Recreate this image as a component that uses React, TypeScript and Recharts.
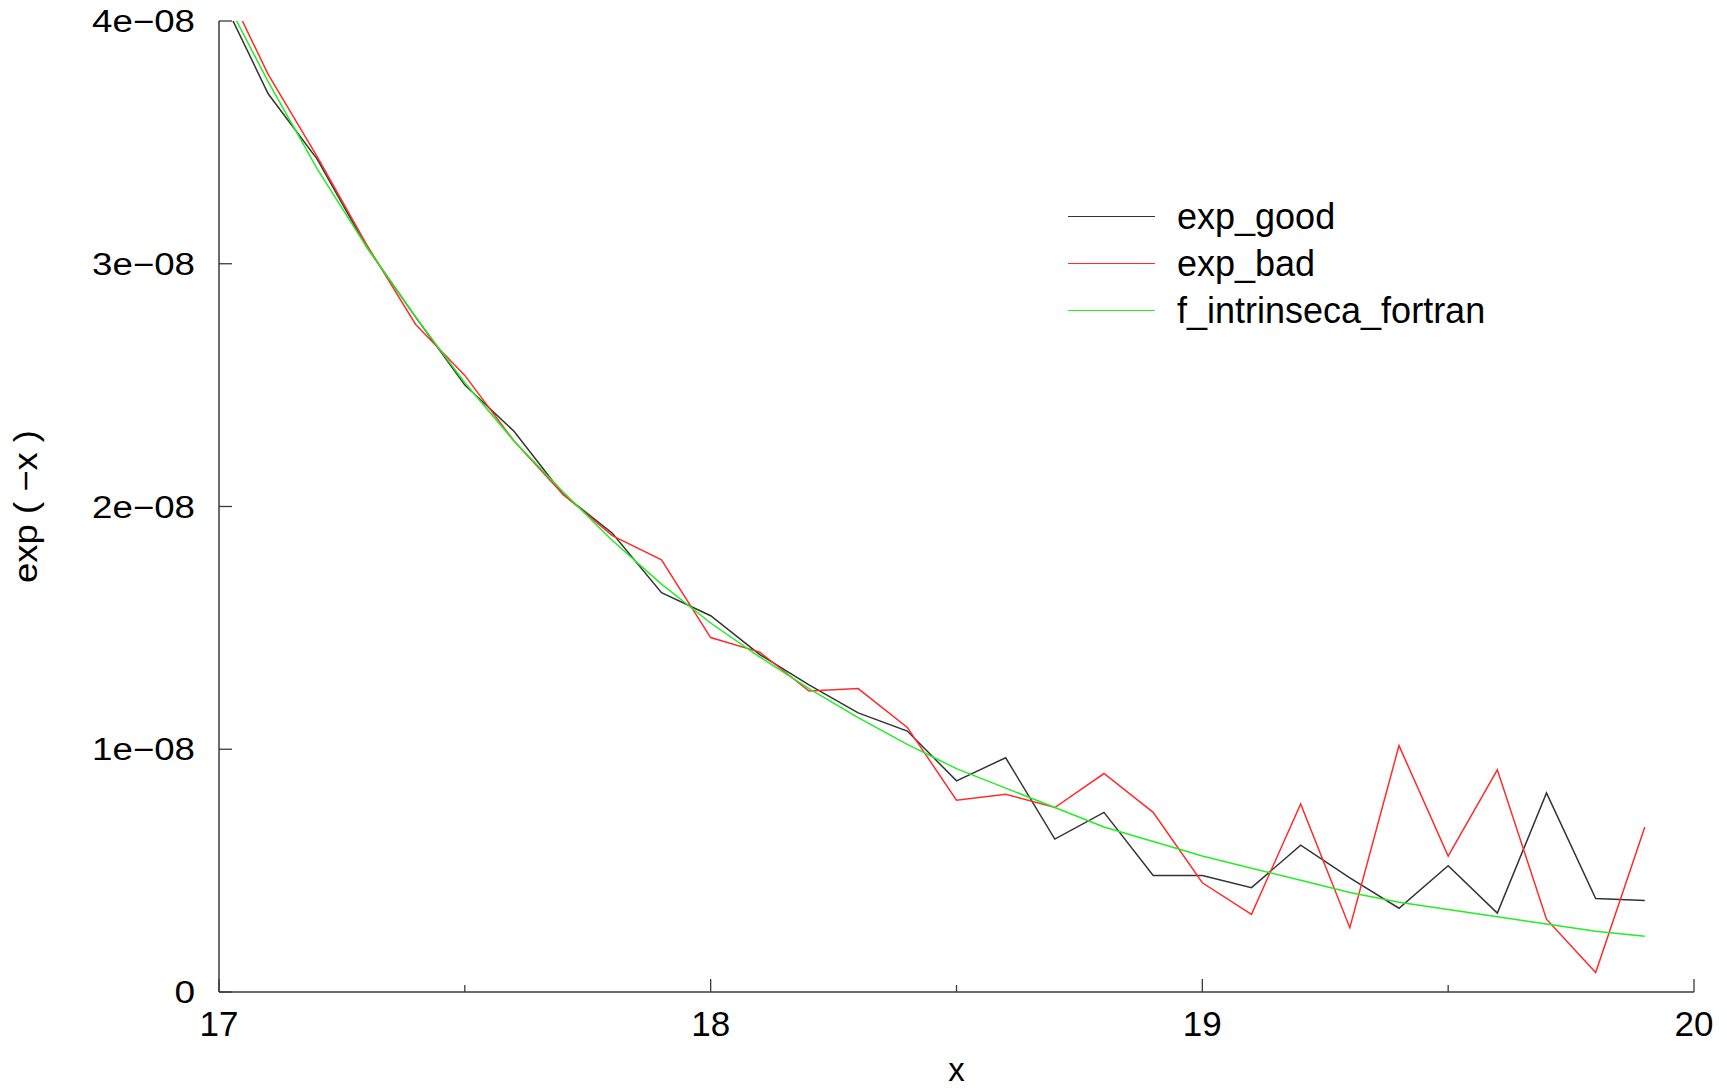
import { LineChart, Line, XAxis, YAxis, Legend } from 'recharts';

// sample points (x) and the three series
const xValues = [
  17.0, 17.1, 17.2, 17.3, 17.4, 17.5, 17.6, 17.7, 17.8, 17.9,
  18.0, 18.1, 18.2, 18.3, 18.4, 18.5, 18.6, 18.7, 18.8, 18.9,
  19.0, 19.1, 19.2, 19.3, 19.4, 19.5, 19.6, 19.7, 19.8, 19.9,
];

const expGood = [
  4.12e-8, 3.70e-8, 3.43e-8, 3.07e-8, 2.78e-8, 2.50e-8, 2.31e-8, 2.05e-8, 1.89e-8, 1.645e-8,
  1.55e-8, 1.39e-8, 1.265e-8, 1.15e-8, 1.075e-8, 0.87e-8, 0.965e-8, 0.63e-8, 0.74e-8, 0.48e-8,
  0.48e-8, 0.43e-8, 0.605e-8, 0.47e-8, 0.345e-8, 0.52e-8, 0.325e-8, 0.82e-8, 0.385e-8, 0.377e-8,
];

const expBad = [
  4.20e-8, 3.78e-8, 3.44e-8, 3.08e-8, 2.75e-8, 2.54e-8, 2.27e-8, 2.05e-8, 1.88e-8, 1.78e-8,
  1.46e-8, 1.40e-8, 1.24e-8, 1.25e-8, 1.09e-8, 0.79e-8, 0.815e-8, 0.76e-8, 0.90e-8, 0.74e-8,
  0.45e-8, 0.32e-8, 0.775e-8, 0.265e-8, 1.015e-8, 0.56e-8, 0.915e-8, 0.30e-8, 0.08e-8, 0.68e-8,
];

const fIntrinseca = [
  4.14e-8, 3.75e-8, 3.39e-8, 3.07e-8, 2.78e-8, 2.51e-8, 2.27e-8, 2.06e-8, 1.86e-8, 1.68e-8,
  1.52e-8, 1.38e-8, 1.25e-8, 1.13e-8, 1.02e-8, 0.92e-8, 0.84e-8, 0.76e-8, 0.68e-8, 0.62e-8,
  0.56e-8, 0.51e-8, 0.46e-8, 0.41e-8, 0.37e-8, 0.34e-8, 0.31e-8, 0.28e-8, 0.25e-8, 0.23e-8,
];

const seriesNames = ['exp_good', 'exp_bad', 'f_intrinseca_fortran'];

const xTicks = [17, 17.5, 18, 18.5, 19, 19.5, 20];
const xTickLabels = ['17', '', '18', '', '19', '', '20'];
const yTicks = [0, 1e-8, 2e-8, 3e-8, 4e-8];
const yTickLabels = ['0', '1e\u221208', '2e\u221208', '3e\u221208', '4e\u221208'];

const data = xValues.map((x, i) => ({
  x,
  good: expGood[i],
  bad: expBad[i],
  fortran: fIntrinseca[i],
}));

const FONT = '"Liberation Sans", Arial, Helvetica, sans-serif';
const FRAME = '#3a3a3a';

const XTickBottom = ({ x, y, index }: any) => {
  const label = xTickLabels[index];
  return (
    <g>
      <line x1={x} y1={y} x2={x} y2={y - (label ? 13 : 7)} stroke={FRAME} strokeWidth={1.3} />
      {label && (
        <text x={x} y={y + 44} textAnchor="middle" fontFamily={FONT} fontSize={35} fill="#000">
          {label}
        </text>
      )}
    </g>
  );
};

const XTickTop = ({ x, y, index }: any) => (
  <line x1={x} y1={y} x2={x} y2={y + (xTickLabels[index] ? 13 : 7)} stroke={FRAME} strokeWidth={1.3} />
);

const YTickLeft = ({ x, y, index }: any) => {
  const label = yTickLabels[index];
  return (
    <g>
      <line x1={x} y1={y} x2={x + 13} y2={y} stroke={FRAME} strokeWidth={1.3} />
      <text
        x={x - 24}
        y={y + 11}
        textAnchor="end"
        fontFamily={FONT}
        fontSize={31}
        fill="#000"
        textLength={label.length * 20.6}
        lengthAdjust="spacingAndGlyphs"
      >
        {label}
      </text>
    </g>
  );
};

const YTickRight = ({ x, y }: any) => (
  <line x1={x} y1={y} x2={x - 13} y2={y} stroke={FRAME} strokeWidth={1.3} />
);

const XTitle = ({ viewBox }: any) => (
  <text
    x={viewBox.x + viewBox.width / 2}
    y={viewBox.y + 89}
    textAnchor="middle"
    fontFamily={FONT}
    fontSize={33}
    fill="#000"
  >
    x
  </text>
);

const YTitle = ({ viewBox }: any) => (
  <text
    transform={`translate(${viewBox.x + viewBox.width - 182},${viewBox.y + viewBox.height / 2}) rotate(-90)`}
    textAnchor="middle"
    fontFamily={FONT}
    fontSize={33}
    fill="#000"
    textLength={153}
    lengthAdjust="spacingAndGlyphs"
  >
    exp ( {'\u2212'}x )
  </text>
);

const renderLegend = (props: any) => {
  const items = [...props.payload].sort(
    (a: any, b: any) => seriesNames.indexOf(a.value) - seriesNames.indexOf(b.value),
  );
  return (
    <div>
      {items.map((entry: any, i: number) => (
        <div key={`leg-${i}`} style={{ display: 'flex', alignItems: 'center', height: 47 }}>
          <div style={{ width: 87, height: 0, borderTop: `1.5px solid ${entry.color}` }} />
          <span
            style={{
              marginLeft: 22,
              fontFamily: FONT,
              fontSize: 36,
              lineHeight: '36px',
              color: '#000',
              whiteSpace: 'nowrap',
            }}
          >
            {entry.value}
          </span>
        </div>
      ))}
    </div>
  );
};

export default function App() {
  return (
    <div style={{ position: 'absolute', left: 0, top: 0, width: 1727, height: 1089, background: '#fff' }}>
      <LineChart width={1727} height={1089} data={data} margin={{ top: 21, right: 33, bottom: 37, left: 119 }}>
        <XAxis
          dataKey="x"
          type="number"
          domain={[17, 20]}
          ticks={xTicks}
          height={60}
          tickSize={0}
          tickMargin={0}
          tickLine={false}
          tick={<XTickBottom />}
          axisLine={{ stroke: FRAME, strokeWidth: 1.5 }}
          allowDataOverflow
          label={{ value: 'x', content: XTitle }}
        />
        <XAxis
          xAxisId="top"
          orientation="top"
          type="number"
          domain={[17, 20]}
          ticks={xTicks}
          height={0}
          tickSize={0}
          tickMargin={0}
          tickLine={false}
          tick={<XTickTop />}
          axisLine={{ stroke: FRAME, strokeWidth: 1.5 }}
          allowDataOverflow
        />
        <YAxis
          type="number"
          domain={[0, 4e-8]}
          ticks={yTicks}
          width={100}
          tickSize={0}
          tickMargin={0}
          tickLine={false}
          tick={<YTickLeft />}
          axisLine={{ stroke: FRAME, strokeWidth: 1.5 }}
          allowDataOverflow
          label={{ value: 'exp ( -x )', content: YTitle }}
        />
        <YAxis
          yAxisId="right"
          orientation="right"
          type="number"
          domain={[0, 4e-8]}
          ticks={yTicks}
          width={0}
          tickSize={0}
          tickMargin={0}
          tickLine={false}
          tick={<YTickRight />}
          axisLine={{ stroke: FRAME, strokeWidth: 1.5 }}
          allowDataOverflow
        />
        <Legend
          layout="vertical"
          align="center"
          verticalAlign="middle"
          content={renderLegend}
          wrapperStyle={{ left: 1068, top: 193, width: 'auto' }}
        />
        <Line
          type="linear"
          dataKey="good"
          name="exp_good"
          stroke="#333333"
          strokeWidth={1.5}
          dot={false}
          isAnimationActive={false}
        />
        <Line
          type="linear"
          dataKey="bad"
          name="exp_bad"
          stroke="#ff2b2b"
          strokeWidth={1.5}
          dot={false}
          isAnimationActive={false}
        />
        <Line
          type="linear"
          dataKey="fortran"
          name="f_intrinseca_fortran"
          stroke="#22ee22"
          strokeWidth={1.5}
          dot={false}
          isAnimationActive={false}
        />
      </LineChart>
    </div>
  );
}
